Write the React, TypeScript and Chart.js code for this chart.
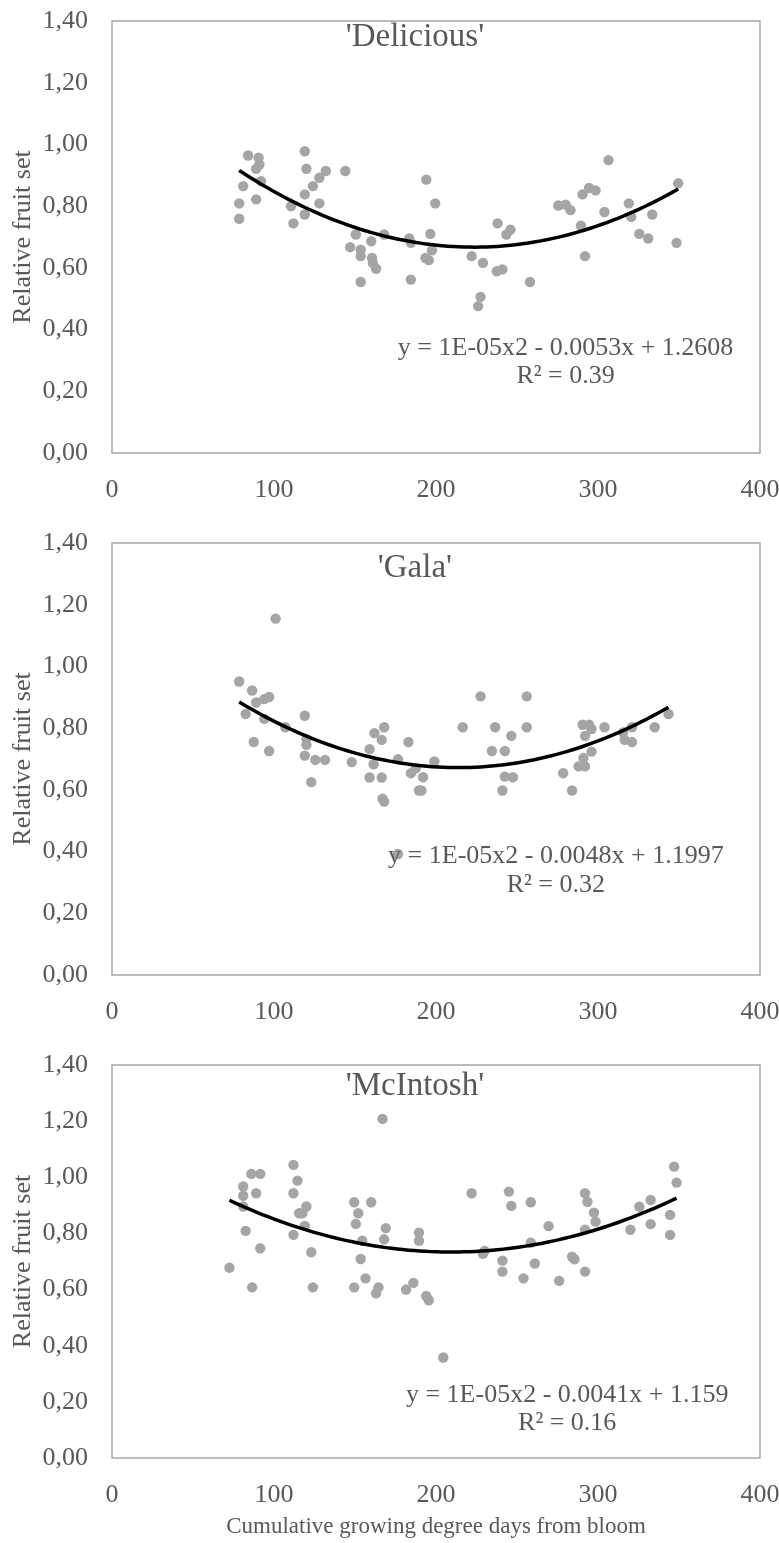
import React, { useEffect, useRef } from 'react';
import { Chart, registerables } from 'chart.js';

Chart.register(...registerables);

const FONT = '"Liberation Serif", "Times New Roman", serif';
const TEXT_COLOR = '#595959';
const POINT_COLOR = '#A5A5A5';

// ---- Data: 'Delicious' ----
const deliciousX = [84, 90.5, 91, 89, 92, 81, 78.5, 78.5, 89, 119, 120, 132, 128, 124, 119, 128, 110.5, 119, 112, 144, 150.5, 160, 147, 153.5, 153.5, 160.5, 161, 163, 153.5, 168, 183.5, 184.5, 196.5, 197.5, 194, 199.5, 193.5, 195.5, 184.5, 222, 229, 238, 246, 243.5, 237.5, 241, 227.5, 226, 258, 275.5, 280, 283, 289.5, 292, 290.5, 294.5, 298.5, 306.5, 304, 319, 320.5, 333.5, 325.5, 331, 349.5, 348.5];
const deliciousY = [0.964, 0.957, 0.935, 0.921, 0.881, 0.865, 0.809, 0.759, 0.822, 0.978, 0.921, 0.914, 0.892, 0.865, 0.838, 0.809, 0.800, 0.773, 0.744, 0.914, 0.708, 0.686, 0.667, 0.659, 0.638, 0.632, 0.616, 0.597, 0.554, 0.708, 0.695, 0.681, 0.710, 0.657, 0.886, 0.809, 0.632, 0.625, 0.562, 0.638, 0.616, 0.744, 0.724, 0.708, 0.589, 0.595, 0.506, 0.476, 0.554, 0.802, 0.805, 0.787, 0.737, 0.638, 0.838, 0.859, 0.851, 0.949, 0.781, 0.809, 0.765, 0.773, 0.710, 0.695, 0.874, 0.681];

// ---- Data: 'Gala' ----
const galaX = [78.5, 86.5, 89, 94, 97, 82.5, 94, 87.5, 97, 107, 119, 120, 120, 119, 125.5, 131.5, 123, 148, 159, 162, 168, 166.5, 161.5, 159, 166.5, 167, 168, 101, 176.5, 176.5, 183, 184.5, 187.5, 192, 189.5, 191, 199, 216.5, 227.5, 234.5, 236.5, 242.5, 246.5, 242.5, 247.5, 241, 256, 256, 278.5, 284, 290.5, 294.5, 296, 292, 304, 296, 291, 288, 292, 315.5, 316.5, 321, 321, 335, 343.5];
const galaY = [0.951, 0.922, 0.883, 0.894, 0.901, 0.846, 0.830, 0.755, 0.726, 0.803, 0.840, 0.765, 0.746, 0.711, 0.697, 0.697, 0.625, 0.690, 0.732, 0.784, 0.803, 0.762, 0.683, 0.640, 0.640, 0.571, 0.562, 1.155, 0.699, 0.392, 0.755, 0.654, 0.670, 0.641, 0.598, 0.598, 0.692, 0.803, 0.903, 0.726, 0.803, 0.726, 0.775, 0.643, 0.641, 0.598, 0.903, 0.803, 0.654, 0.598, 0.811, 0.811, 0.797, 0.775, 0.803, 0.724, 0.703, 0.676, 0.676, 0.786, 0.762, 0.755, 0.803, 0.803, 0.846];

// ---- Data: 'McIntosh' ----
const mcintoshX = [72.5, 81, 81, 81, 86, 91.5, 89, 82.5, 91.5, 86.5, 112, 114.5, 112, 120, 115.5, 117.5, 119, 112, 123, 124, 149.5, 160, 152, 150.5, 154.5, 153.5, 156.5, 149.5, 164.5, 163, 169, 168, 189.5, 189.5, 181.5, 186, 194, 195.5, 204.5, 222, 230, 229, 241, 241, 245, 246.5, 258.5, 258.5, 261, 254, 269.5, 276, 284, 285.5, 292, 292, 293.5, 297.5, 298.5, 292, 320, 325.5, 332.5, 332.5, 347, 348.5, 344.5, 344.5, 167];
const mcintoshY = [0.678, 0.967, 0.934, 0.896, 1.012, 1.012, 0.943, 0.809, 0.747, 0.608, 1.044, 0.988, 0.943, 0.896, 0.872, 0.872, 0.827, 0.795, 0.733, 0.608, 0.911, 0.911, 0.872, 0.834, 0.774, 0.709, 0.640, 0.608, 0.608, 0.587, 0.819, 0.779, 0.803, 0.774, 0.600, 0.624, 0.577, 0.562, 0.358, 0.943, 0.738, 0.727, 0.703, 0.664, 0.949, 0.898, 0.911, 0.767, 0.693, 0.640, 0.826, 0.631, 0.717, 0.708, 0.664, 0.943, 0.913, 0.874, 0.842, 0.813, 0.813, 0.895, 0.919, 0.833, 1.038, 0.981, 0.866, 0.795, 1.208];

// ---- Ticks and texts ----
const xTickValues = [0, 100, 200, 300, 400];
const xTickLabels = ['0', '100', '200', '300', '400'];
const yTickValues = [0, 0.2, 0.4, 0.6, 0.8, 1.0, 1.2, 1.4];
const yTickLabels = ['0,00', '0,20', '0,40', '0,60', '0,80', '1,00', '1,20', '1,40'];

const panelTitles = ["'Delicious'", "'Gala'", "'McIntosh'"];
const equationTexts = [
  'y = 1E-05x2 - 0.0053x + 1.2608',
  'y = 1E-05x2 - 0.0048x + 1.1997',
  'y = 1E-05x2 - 0.0041x + 1.159',
];
const r2Texts = ['R² = 0.39', 'R² = 0.32', 'R² = 0.16'];
const yAxisTitle = 'Relative fruit set';
const xAxisTitle = 'Cumulative growing degree days from bloom';

// Least-squares polynomial (order 2) trendline, as Excel computes it
function fitQuadratic(xs: number[], ys: number[]) {
  let n = xs.length, s1 = 0, s2 = 0, s3 = 0, s4 = 0, t0 = 0, t1 = 0, t2 = 0;
  for (let i = 0; i < n; i++) {
    const x = xs[i], y = ys[i], x2 = x * x;
    s1 += x; s2 += x2; s3 += x2 * x; s4 += x2 * x2;
    t0 += y; t1 += x * y; t2 += x2 * y;
  }
  const M = [[n, s1, s2, t0], [s1, s2, s3, t1], [s2, s3, s4, t2]];
  for (let c = 0; c < 3; c++) {
    let p = c;
    for (let r = c + 1; r < 3; r++) if (Math.abs(M[r][c]) > Math.abs(M[p][c])) p = r;
    const tmp = M[c]; M[c] = M[p]; M[p] = tmp;
    for (let r = 0; r < 3; r++) {
      if (r === c) continue;
      const f = M[r][c] / M[c][c];
      for (let k = c; k < 4; k++) M[r][k] -= f * M[c][k];
    }
  }
  return [M[0][3] / M[0][0], M[1][3] / M[1][1], M[2][3] / M[2][2]];
}

function trendPoints(xs: number[], ys: number[]) {
  const [c0, c1, c2] = fitQuadratic(xs, ys);
  const lo = Math.min(...xs), hi = Math.max(...xs);
  const pts: { x: number; y: number }[] = [];
  const steps = 80;
  for (let i = 0; i <= steps; i++) {
    const x = lo + ((hi - lo) * i) / steps;
    pts.push({ x, y: c0 + c1 * x + c2 * x * x });
  }
  return pts;
}

const panelDecor = {
  id: 'panelDecor',
  beforeDatasetsDraw(chart: any, _args: any, opts: any) {
    const { ctx, chartArea: a } = chart;
    ctx.save();
    ctx.strokeStyle = opts.frameColor;
    ctx.lineWidth = opts.frameWidth;
    ctx.strokeRect(a.left, a.top, a.right - a.left, a.bottom - a.top);
    ctx.restore();
  },
  afterDatasetsDraw(chart: any, _args: any, opts: any) {
    const { ctx } = chart;
    const sx = chart.scales.x, sy = chart.scales.y;
    ctx.save();
    ctx.textAlign = 'center';
    ctx.textBaseline = 'middle';
    for (const t of opts.labels) {
      ctx.font = `${t.size}px ${FONT}`;
      ctx.fillStyle = t.color;
      ctx.fillText(t.text, sx.getPixelForValue(t.x), sy.getPixelForValue(t.y));
    }
    ctx.restore();
  },
};

type PanelProps = {
  xs: number[];
  ys: number[];
  index: number;
  top: number;
  height: number;
  padTop: number;
  xAxisHeight: number;
  showXTitle: boolean;
  titlePos: { x: number; y: number };
  eqPos: { x: number; y: number };
  r2Pos: { x: number; y: number };
};

function Panel(p: PanelProps) {
  const ref = useRef<HTMLCanvasElement | null>(null);
  useEffect(() => {
    if (!ref.current) return;
    const points = p.xs.map((x, i) => ({ x, y: p.ys[i] }));
    const chart = new Chart(ref.current, {
      type: 'scatter',
      data: {
        datasets: [
          {
            data: trendPoints(p.xs, p.ys),
            showLine: true,
            borderColor: '#000000',
            borderWidth: 3.5,
            pointRadius: 0,
            fill: false,
            tension: 0,
            order: 0,
          },
          {
            data: points,
            backgroundColor: POINT_COLOR,
            borderWidth: 0,
            pointRadius: 5.2,
            order: 1,
          },
        ],
      },
      options: {
        animation: false,
        responsive: false,
        devicePixelRatio: 1,
        layout: { padding: { top: p.padTop, right: 19, left: 0, bottom: 0 } },
        plugins: {
          legend: { display: false },
          tooltip: { enabled: false },
          panelDecor: {
            frameColor: '#A6A6A6',
            frameWidth: 1.5,
            labels: [
              { text: panelTitles[p.index], x: p.titlePos.x, y: p.titlePos.y, size: 33, color: TEXT_COLOR },
              { text: equationTexts[p.index], x: p.eqPos.x, y: p.eqPos.y, size: 26, color: TEXT_COLOR },
              { text: r2Texts[p.index], x: p.r2Pos.x, y: p.r2Pos.y, size: 26, color: TEXT_COLOR },
            ],
          },
        } as any,
        scales: {
          x: {
            type: 'linear',
            min: 0,
            max: 400,
            grid: { display: false, drawTicks: false },
            border: { display: false },
            afterBuildTicks: (s: any) => {
              s.ticks = xTickValues.map((v) => ({ value: v }));
            },
            afterFit: (s: any) => {
              s.height = p.xAxisHeight;
              s.paddingLeft = 0;
              s.paddingRight = 0;
            },
            ticks: {
              padding: 22,
              color: TEXT_COLOR,
              font: { family: FONT, size: 26 },
              maxRotation: 0,
              callback: (_v: any, i: number) => xTickLabels[i],
            },
            title: {
              display: p.showXTitle,
              text: xAxisTitle,
              color: TEXT_COLOR,
              font: { family: FONT, size: 23 },
              padding: { top: 0, bottom: 2 },
            },
          },
          y: {
            type: 'linear',
            min: 0,
            max: 1.4,
            grid: { display: false, drawTicks: false },
            border: { display: false },
            afterBuildTicks: (s: any) => {
              s.ticks = yTickValues.map((v) => ({ value: v }));
            },
            afterFit: (s: any) => {
              s.width = 112;
              s.paddingTop = 0;
              s.paddingBottom = 0;
            },
            ticks: {
              padding: 24,
              color: TEXT_COLOR,
              font: { family: FONT, size: 26 },
              callback: (_v: any, i: number) => yTickLabels[i],
            },
            title: {
              display: true,
              text: yAxisTitle,
              color: TEXT_COLOR,
              font: { family: FONT, size: 26 },
              padding: { top: 8, bottom: 0 },
            },
          },
        },
      },
      plugins: [panelDecor],
    } as any);
    return () => chart.destroy();
  }, []);
  return (
    <canvas
      ref={ref}
      width={779}
      height={p.height}
      style={{ position: 'absolute', left: 0, top: p.top, width: 779, height: p.height }}
    />
  );
}

export default function App() {
  return (
    <div style={{ position: 'absolute', left: 0, top: 0, width: 779, height: 1543, background: '#ffffff' }}>
      <Panel
        xs={deliciousX}
        ys={deliciousY}
        index={0}
        top={0}
        height={523}
        padTop={21}
        xAxisHeight={70}
        showXTitle={false}
        titlePos={{ x: 187, y: 1.348 }}
        eqPos={{ x: 280, y: 0.34 }}
        r2Pos={{ x: 280, y: 0.25 }}
      />
      <Panel
        xs={galaX}
        ys={galaY}
        index={1}
        top={523}
        height={523}
        padTop={20}
        xAxisHeight={71}
        showXTitle={false}
        titlePos={{ x: 187, y: 1.318 }}
        eqPos={{ x: 274, y: 0.385 }}
        r2Pos={{ x: 274, y: 0.29 }}
      />
      <Panel
        xs={mcintoshX}
        ys={mcintoshY}
        index={2}
        top={1046}
        height={497}
        padTop={19}
        xAxisHeight={85}
        showXTitle={true}
        titlePos={{ x: 187, y: 1.325 }}
        eqPos={{ x: 281, y: 0.224 }}
        r2Pos={{ x: 281, y: 0.125 }}
      />
    </div>
  );
}
